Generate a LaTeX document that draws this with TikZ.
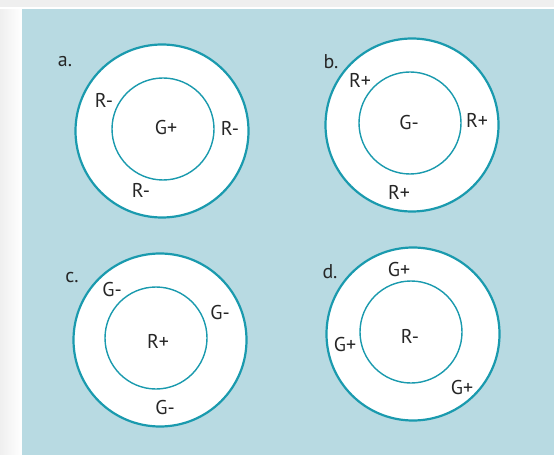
\documentclass[tikz,border=0pt]{standalone}
\usepackage{fontspec}
\setmainfont{PT Sans}
\usetikzlibrary{positioning}
\definecolor{panelblue}{HTML}{B8DAE2}
\definecolor{ringteal}{HTML}{1A9AAE}
\definecolor{pagegray}{HTML}{EFEFEF}
\definecolor{inkgray}{HTML}{262626}

\begin{document}
\begin{tikzpicture}[
    x=1bp, y=-1bp,
    outerring/.style={circle, draw=ringteal, line width=2.2bp, fill=white, minimum size=173bp, inner sep=0pt},
    innerring/.style={circle, draw=ringteal, line width=1.4bp, minimum size=102bp, inner sep=0pt},
    chg/.style={font=\fontsize{20}{20}\selectfont, inner sep=0pt, text=inkgray},
    tag/.style={font=\fontsize{20}{20}\selectfont, inner sep=0pt, text=inkgray},
]
\useasboundingbox (0,0) rectangle (554,455);
% page and panel
\fill[pagegray] (0,0) rectangle (554,455);
\shade[left color=pagegray, right color=white] (0,8) rectangle (22,455);
\fill[white] (0,7) rectangle (554,9);
\fill[panelblue] (22,9) rectangle (554,455);

% a.
\node[outerring] (ringA) at (162,131) {};
\node[innerring] (coreA) at (163,129) {};
\node[tag] (tagA) at (65,62) {a.};
\node[chg] (a1) at (104,100) {R-};
\node[chg] (a2) at (166,128) {G+};
\node[chg] (a3) at (230,128) {R-};
\node[chg] (a4) at (141,190) {R-};

% b.
\node[outerring] (ringB) at (412,125) {};
\node[innerring] (coreB) at (410,123) {};
\node[tag] (tagB) at (331,62) {b.};
\node[chg] (b1) at (360,80) {R+};
\node[chg] (b2) at (409,123) {G-};
\node[chg] (b3) at (477,120) {R+};
\node[chg] (b4) at (399,192) {R+};

% c.
\node[outerring] (ringC) at (160,340) {};
\node[innerring] (coreC) at (156,338) {};
\node[tag] (tagC) at (72,278) {c.};
\node[chg] (c1) at (112,290) {G-};
\node[chg] (c2) at (158,341) {R+};
\node[chg] (c3) at (220,313) {G-};
\node[chg] (c4) at (165,408) {G-};

% d.
\node[outerring] (ringD) at (413,334) {};
\node[innerring] (coreD) at (411,332) {};
\node[tag] (tagD) at (330,272) {d.};
\node[chg] (d1) at (399,270) {G+};
\node[chg] (d2) at (410,336) {R-};
\node[chg] (d3) at (345,345) {G+};
\node[chg] (d4) at (462,388) {G+};
\end{tikzpicture}
\end{document}
